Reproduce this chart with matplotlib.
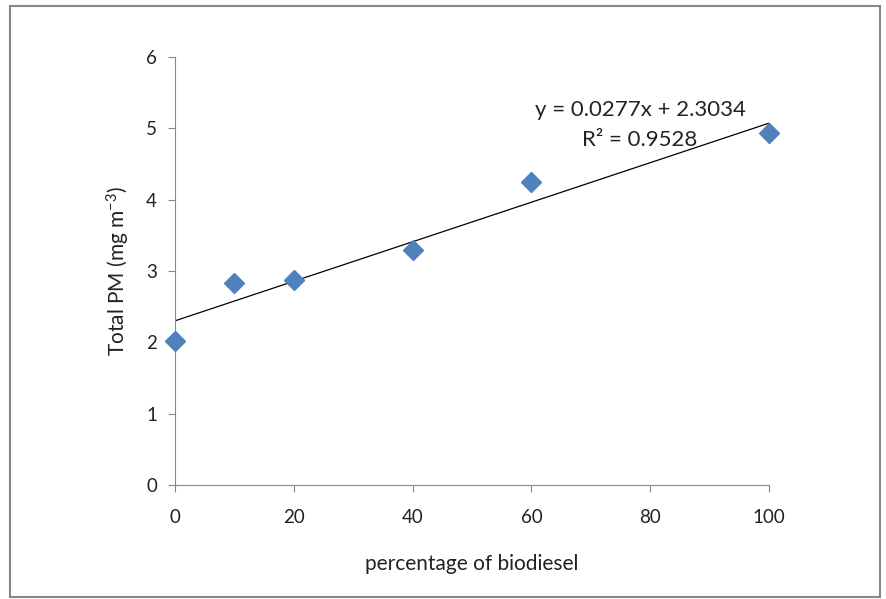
import numpy as np
import matplotlib.pyplot as plt
from matplotlib.patches import Rectangle

plt.rcParams['font.family'] = ['Lato', 'DejaVu Sans']
plt.rcParams['mathtext.fontset'] = 'custom'
plt.rcParams['mathtext.rm'] = 'Lato'
plt.rcParams['mathtext.default'] = 'regular'

# biodiesel share (%) and measured total PM
biodiesel = [0, 10, 20, 40, 60, 100]
total_pm = [2.02, 2.83, 2.88, 3.29, 4.25, 4.93]

slope = 0.0277
intercept = 2.3034
r2 = 0.9528

fig = plt.figure(figsize=(8.87, 5.99), dpi=100)
fig.patches.append(Rectangle((0.0113, 0.004), 0.981, 0.986, transform=fig.transFigure,
                             fill=False, edgecolor='#888888', linewidth=1.5))

ax = fig.add_axes([0.1973, 0.190, 0.6697, 0.7148])

fit_x = np.array([min(biodiesel), max(biodiesel)])
ax.plot(fit_x, slope * fit_x + intercept, color='black', linewidth=0.9, zorder=2)
ax.plot(biodiesel, total_pm, linestyle='none', marker='D', markersize=10,
        color='#4F81BD', markeredgecolor='#4F81BD', zorder=3, clip_on=False)

ax.set_xlim(0, 100)
ax.set_ylim(0, 6)
ax.set_xticks([0, 20, 40, 60, 80, 100])
ax.set_yticks(range(0, 7))

for side in ['top', 'right']:
    ax.spines[side].set_visible(False)
for side in ['left', 'bottom']:
    ax.spines[side].set_color('#888888')
ax.tick_params(axis='both', colors='#888888', labelcolor='#222222', labelsize=13.5, length=5)
ax.tick_params(axis='x', pad=12)
ax.tick_params(axis='y', pad=8)

ax.set_xlabel('percentage of biodiesel', fontsize=15, color='#222222', labelpad=20)
ax.set_ylabel('Total PM (mg m$^{-3}$)', fontsize=15, color='#222222', labelpad=10)

ax.text(78.3, 5.26, 'y = 0.0277x + 2.3034', fontsize=16, ha='center', va='center', color='#222222')
ax.text(78.3, 4.84, 'R² = 0.9528', fontsize=16, ha='center', va='center', color='#222222')

fig.savefig('out.png', dpi=100)
